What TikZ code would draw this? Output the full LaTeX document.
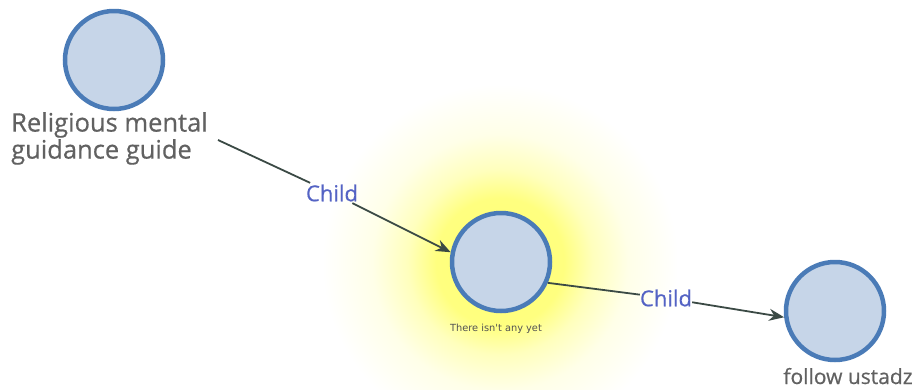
\documentclass[tikz,border=0pt]{standalone}
\usepackage{fontspec}
\setmainfont{Open Sans}[FakeBold=0.6]
\newfontfamily\labelfont{Open Sans}[FakeBold=0.5]
\newfontfamily\smallfont{DejaVu Sans}
\usetikzlibrary{arrows.meta}
\definecolor{nodefill}{HTML}{C6D5E8}
\definecolor{nodeline}{HTML}{4A7BB7}
\definecolor{edgecol}{HTML}{3B4A45}
\definecolor{labcol}{HTML}{5463C4}
\definecolor{txtgray}{HTML}{616161}
\pgfdeclareradialshading{glow}{\pgfpoint{0bp}{0bp}}{color(0bp)=(yellow!55); color(9bp)=(yellow!50); color(13bp)=(yellow!26); color(18bp)=(yellow!9); color(25bp)=(white); color(50bp)=(white)}
\tikzset{
  topic/.style={circle, draw=nodeline, line width=4.5pt, fill=nodefill, minimum size=98pt, inner sep=0pt},
  link/.style={draw=edgecol, line width=1.8pt},
  linkarrow/.style={link, -{Stealth[length=15pt,width=12pt]}},
  edgelabel/.style={text=labcol, font=\labelfont\fontsize{22}{26}\selectfont, inner sep=1.5pt},
}
\begin{document}
\begin{tikzpicture}[x=1pt,y=-1pt]
\useasboundingbox (0,0) rectangle (919,389);
\shade[shading=glow] (500,262) circle (178);
\node[topic] (n1) at (114,60) {};
\node[topic] (n2) at (501,262) {};
\node[topic] (n3) at (835,311) {};
\node[anchor=north west, align=left, inner sep=0pt, text=txtgray, font=\labelfont\fontsize{25.5}{27}\selectfont] (t1) at (11,112) {Religious mental\\guidance guide};
\node[text=black!68, font=\smallfont\fontsize{9.8}{12}\selectfont, inner sep=0pt] (t2) at (496,329) {There isn't any yet};
\node[text=txtgray, font=\labelfont\fontsize{21}{24}\selectfont, inner sep=0pt, anchor=base] (t3) at (848,384) {follow ustadz};
\coordinate (s1) at (218,140);
\node[edgelabel] (c1) at (332,193) {Child};
\node[edgelabel, inner sep=0pt] (c2) at (666,298) {Child};
\draw[link] (s1) -- (c1);
\draw[linkarrow] (c1) -- (n2.169);
\draw[link] (n2.336) -- (c2);
\draw[linkarrow] (c2) -- (n3.187);
\end{tikzpicture}
\end{document}
